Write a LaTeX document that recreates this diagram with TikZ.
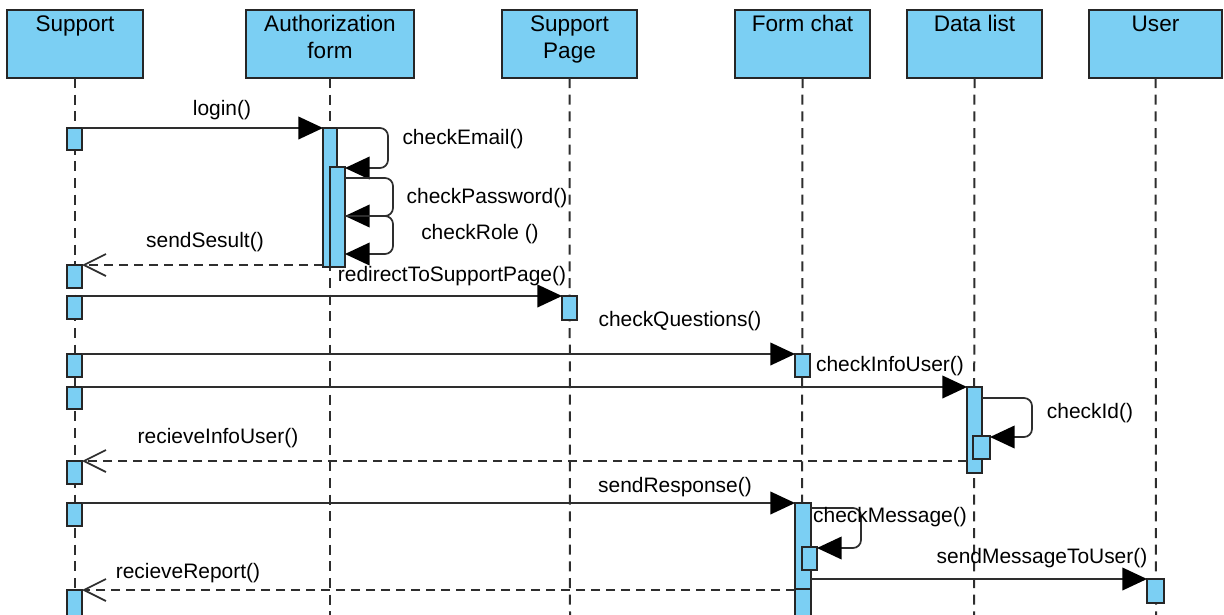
\documentclass[tikz,border=0pt]{standalone}
\usepackage{fontspec}
\setmainfont{Liberation Sans}
\usetikzlibrary{arrows.meta,fit}
\definecolor{barblue}{HTML}{7BCFF3}
\definecolor{edge}{HTML}{262626}
\definecolor{wire}{HTML}{2E2E2E}
\begin{document}
\begin{tikzpicture}[x=0.75pt,y=-0.75pt,
  lifebox/.style={draw=edge, fill=barblue, line width=1.5pt, inner sep=0pt, outer sep=0pt},
  bar/.style={draw=edge, fill=barblue, line width=1.5pt, inner sep=0pt, outer sep=0pt},
  hdr/.style={anchor=north, align=center, inner sep=0pt, yshift=-1.5pt,
    font=\fontsize{16.9}{20.3}\selectfont, text=black},
  lbl/.style={font=\fontsize{15.7}{19}\selectfont, inner sep=0pt, text=black},
  life/.style={draw=wire, line width=1.5pt, dash pattern=on 7.5pt off 5pt},
  call/.style={draw=wire, line width=1.3pt, -{Triangle[length=18.5pt,width=17pt,color=black]}},
  reply/.style={draw=wire, line width=1.3pt, dash pattern=on 6.75pt off 4.5pt,
    -{Straight Barb[length=16.5pt,width=16.5pt]}},
  selfcall/.style={call, rounded corners=6pt},
]
\useasboundingbox (0,0) rectangle (1224,614);

% lifeline heads
\node[lifebox, fit={(7,10) (143,78)}, label={[hdr]north:\strut Support}] (h1) {};
\node[lifebox, fit={(246,10) (414,78)}, label={[hdr]north:\strut Authorization\\form}] (h2) {};
\node[lifebox, fit={(502,10) (637,78)}, label={[hdr]north:\strut Support\\Page}] (h3) {};
\node[lifebox, fit={(735,10) (870,78)}, label={[hdr]north:\strut Form chat}] (h4) {};
\node[lifebox, fit={(907,10) (1042,78)}, label={[hdr]north:\strut Data list}] (h5) {};
\node[lifebox, fit={(1089,10) (1222,78)}, label={[hdr]north:\strut User}] (h6) {};

% lifelines
\coordinate (e1) at (75,620);
\coordinate (e2) at (330,620);
\coordinate (e3) at (570,620);
\coordinate (e4) at (802,620);
\coordinate (e5) at (974,620);
\coordinate (e6) at (1156,620);
\draw[life] (h1.south) -- (e1);
\draw[life] (h2.south) -- (e2);
\draw[life] (h3.south) -- (e3);
\draw[life] (h4.south) -- (e4);
\draw[life] (h5.south) -- (e5);
\draw[life] (h6.south) -- (e6);

% activation bars: Support
\node[bar, fit={(67,128) (82,150)}] (s1) {};
\node[bar, fit={(67,265) (82,288)}] (s2) {};
\node[bar, fit={(67,296) (82,319)}] (s3) {};
\node[bar, fit={(67,354) (82,377)}] (s4) {};
\node[bar, fit={(67,387) (82,409)}] (s5) {};
\node[bar, fit={(67,461) (82,484)}] (s6) {};
\node[bar, fit={(67,503) (82,526)}] (s7) {};
\node[bar, fit={(67,590) (82,622)}] (s8) {};
% Authorization form
\node[bar, fit={(323,128) (337,267)}] (a1) {};
\node[bar, fit={(330,167) (345,267)}] (a2) {};
% Support Page
\node[bar, fit={(562,296) (577,320)}] (p1) {};
% Form chat
\node[bar, fit={(795,354) (810,377)}] (f1) {};
\node[bar, fit={(795,503) (811,589)}] (f2) {};
\node[bar, fit={(795,589) (811,622)}] (f3) {};
\node[bar, fit={(802,547) (817,570)}] (f2n) {};
% Data list
\node[bar, fit={(967,387) (982,473)}] (d1) {};
\node[bar, fit={(973,436) (990,459)}] (d1n) {};
% User
\node[bar, fit={(1147,579) (1164,603)}] (u1) {};

% messages
\draw[call] (s1.north east) -- (a1.north west);
\draw[selfcall] (a1.north east) -- (388,128) -- (388,168) -- (a2.east |- 0,168);
\draw[selfcall] (a2.east |- 0,178) -- (393,178) -- (393,216) -- (a2.east |- 0,216);
\draw[selfcall] (a2.east |- 0,216) -- (393,216) -- (393,254) -- (a2.east |- 0,254);
\draw[reply] (a1.west |- s2.north) -- (s2.north east);
\draw[call] (s3.north east) -- (p1.north west);
\draw[call] (s4.north east) -- (f1.north west);
\draw[call] (s5.north east) -- (d1.north west);
\draw[selfcall] (d1.east |- 0,398) -- (1032,398) -- (1032,437) -- (d1n.east |- 0,437);
\draw[reply] (d1.west |- s6.north) -- (s6.north east);
\draw[call] (s7.north east) -- (f2.north west);
\draw[selfcall] (f2.east |- 0,508) -- (861,508) -- (861,548) -- (f2n.east |- 0,548);
\draw[call] (f2.east |- u1.north) -- (u1.north west);
\draw[reply] (f3.west |- s8.north) -- (s8.north east);

% message labels
\node[lbl] (m1) at (222,110) {login()};
\node[lbl] (m2) at (463,139) {checkEmail()};
\node[lbl] (m3) at (487,198) {checkPassword()};
\node[lbl] (m4) at (480,234) {checkRole ()};
\node[lbl] (m5) at (205,242) {sendSesult()};
\node[lbl] (m6) at (452,276) {redirectToSupportPage()};
\node[lbl] (m7) at (680,321) {checkQuestions()};
\node[lbl] (m8) at (890,366) {checkInfoUser()};
\node[lbl] (m9) at (1090,413) {checkId()};
\node[lbl] (m10) at (218,438) {recieveInfoUser()};
\node[lbl] (m11) at (675,487) {sendResponse()};
\node[lbl] (m12) at (890,517) {checkMessage()};
\node[lbl] (m13) at (1042,558) {sendMessageToUser()};
\node[lbl] (m14) at (188,573) {recieveReport()};
\end{tikzpicture}
\end{document}
